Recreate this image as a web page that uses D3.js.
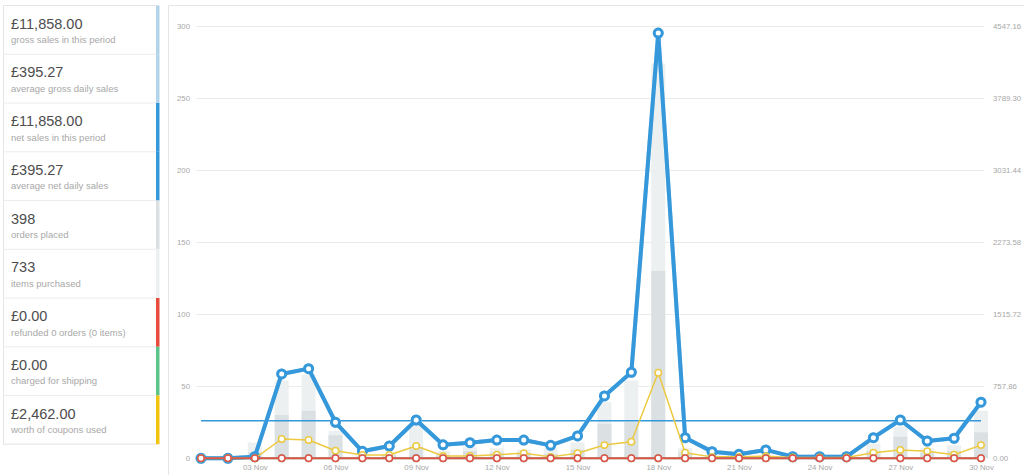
<!DOCTYPE html>
<html>
<head>
<meta charset="utf-8">
<script src="https://cdn.jsdelivr.net/npm/d3@7"></script>
<style>
  body { margin: 0; background: #fff; font-family: "Liberation Sans", Arial, sans-serif; }
  svg { display: block; }
</style>
</head>
<body>
<script>
// summary cards down the left
const cardValues = ['£11,858.00', '£395.27', '£11,858.00', '£395.27', '398', '733', '£0.00', '£0.00', '£2,462.00'];
const cardLabels = ['gross sales in this period', 'average gross daily sales', 'net sales in this period',
                    'average net daily sales', 'orders placed', 'items purchased',
                    'refunded 0 orders (0 items)', 'charged for shipping', 'worth of coupons used'];
const cardColors = ['#b1d4ea', '#b1d4ea', '#3498db', '#3498db', '#dbe1e3', '#ecf0f1', '#e74c3c', '#5cc488', '#f1c40f'];

// one entry per day, 01..30 Nov
const days = d3.range(1, 31);
const dayLabels = days.map(d => d3.format('02')(d) + ' Nov');
const itemCounts  = [0, 0, 11, 54, 58, 19, 2, 3, 23, 5, 8, 7, 6, 7, 11, 39, 54, 274, 7, 2, 1, 2, 1, 1, 1, 10, 22, 7, 9, 33];
const orderCounts = [0, 0, 4, 30, 33, 16, 1, 2, 8, 2, 5, 4, 4, 3, 6, 24, 25, 130, 4, 1, 1, 1, 0, 0, 0, 5, 15, 4, 5, 18];
const netSales    = [0, 0, 17, 887, 943, 379, 74, 129, 403, 142, 164, 192, 192, 136, 235, 656, 905, 4473, 217, 70, 42, 88, 17, 17, 17, 217, 403, 182, 211, 590];
const grossSales  = netSales.slice();
const couponAmounts   = [0, 0, 0, 203, 192, 80, 35, 35, 129, 24, 24, 38, 53, 15, 53, 139, 174, 900, 59, 15, 15, 21, 8, 8, 8, 59, 88, 74, 38, 139];
const shippingAmounts = [0, 0, 0, 0, 0, 0, 0, 0, 0, 0, 0, 0, 0, 0, 0, 0, 0, 0, 0, 0, 0, 0, 0, 0, 0, 0, 0, 0, 0, 0];
const refundAmounts   = [0, 0, 0, 0, 0, 0, 0, 0, 0, 0, 0, 0, 0, 0, 0, 0, 0, 0, 0, 0, 0, 0, 0, 0, 0, 0, 0, 0, 0, 0];
const averageNet = 395.27;

const leftTicks = [0, 50, 100, 150, 200, 250, 300];
const rightTicks = [0, 757.86, 1515.72, 2273.58, 3031.44, 3789.30, 4547.16];
const xTickDays = [3, 6, 9, 12, 15, 18, 21, 24, 27, 30];

const width = 1024, height = 475;
const svg = d3.select('body').append('svg').attr('width', width).attr('height', height);

// ---- left panel
const cardTop = 5, cardH = 48.75, cardX = 3, cardW = 153;
const cards = svg.append('g');
cards.append('rect')
    .attr('x', cardX + 0.5).attr('y', cardTop + 0.5)
    .attr('width', cardW).attr('height', cardH * cardValues.length)
    .attr('fill', '#fff').attr('stroke', '#e5e5e5');

const card = cards.selectAll('g.card').data(cardValues).join('g')
    .attr('class', 'card')
    .attr('transform', (d, i) => `translate(0,${cardTop + i * cardH})`);

card.append('line')
    .attr('x1', cardX).attr('x2', cardX + cardW)
    .attr('y1', cardH + 0.5).attr('y2', cardH + 0.5)
    .attr('stroke', '#ececec');
card.append('rect')
    .attr('x', 156).attr('y', 0.5)
    .attr('width', 3.5).attr('height', cardH)
    .attr('fill', (d, i) => cardColors[i]);
card.append('text')
    .attr('x', 11).attr('y', 23.5)
    .attr('font-size', 14.5).attr('fill', '#4d4d4d')
    .text(d => d);
card.append('text')
    .attr('x', 11).attr('y', 38)
    .attr('font-size', 9.5).attr('fill', '#a8a8a8')
    .text((d, i) => cardLabels[i]);

// ---- chart panel
svg.append('path')
    .attr('d', `M168.5,${height}V5.5H${width}`)
    .attr('fill', 'none').attr('stroke', '#e5e5e5');

const x = d3.scaleLinear().domain([1, 30]).range([201, 981]);
const y = d3.scaleLinear().domain([0, 300]).range([458.3, 26]);
const yMoney = d3.scaleLinear().domain([0, 4547.16]).range([458.3, 26]);

// grid
svg.append('g').selectAll('line').data(leftTicks.slice(1)).join('line')
    .attr('x1', 196).attr('x2', 984)
    .attr('y1', d => Math.round(y(d)) + 0.5).attr('y2', d => Math.round(y(d)) + 0.5)
    .attr('stroke', '#ebebeb');

const leftAxis = svg.append('g')
    .attr('transform', 'translate(190,0)')
    .call(d3.axisLeft(y).tickValues(leftTicks).tickSize(0).tickPadding(0));
const rightAxis = svg.append('g')
    .attr('transform', 'translate(993,0)')
    .call(d3.axisRight(yMoney).tickValues(rightTicks).tickFormat(d3.format('.2f')).tickSize(0).tickPadding(0));
const bottomAxis = svg.append('g')
    .attr('transform', 'translate(0,464)')
    .call(d3.axisBottom(x).tickValues(xTickDays).tickFormat(d => dayLabels[d - 1]).tickSize(0).tickPadding(0));
[leftAxis, rightAxis, bottomAxis].forEach(a => {
  a.select('.domain').remove();
  a.selectAll('text').attr('fill', '#a8a8a8').attr('font-size', 7.8)
      .attr('font-family', '"Liberation Sans", Arial, sans-serif');
});

// bars: items behind, orders in front
const barW = 14;
svg.append('g').selectAll('rect').data(itemCounts).join('rect')
    .attr('x', (d, i) => x(days[i]) - barW / 2).attr('width', barW)
    .attr('y', d => y(d)).attr('height', d => y(0) - y(d))
    .attr('fill', '#ecf0f1');
svg.append('g').selectAll('rect').data(orderCounts).join('rect')
    .attr('x', (d, i) => x(days[i]) - barW / 2).attr('width', barW)
    .attr('y', d => y(d)).attr('height', d => y(0) - y(d))
    .attr('fill', '#dbe1e3');

// average net sales
svg.append('line')
    .attr('x1', x(1)).attr('x2', x(30))
    .attr('y1', yMoney(averageNet)).attr('y2', yMoney(averageNet))
    .attr('stroke', '#3498db').attr('stroke-width', 1.5);

function drawSeries(values, color, lineW, r, ringW) {
  const pts = values.map((v, i) => [x(days[i]), yMoney(v)]);
  const g = svg.append('g');
  g.append('path')
      .attr('d', d3.line()(pts))
      .attr('fill', 'none').attr('stroke', color)
      .attr('stroke-width', lineW).attr('stroke-linejoin', 'round');
  g.selectAll('circle').data(pts).join('circle')
      .attr('cx', d => d[0]).attr('cy', d => d[1]).attr('r', r)
      .attr('fill', '#fff').attr('stroke', color).attr('stroke-width', ringW);
}

drawSeries(grossSales, '#b1d4ea', 4, 4, 3);
drawSeries(netSales, '#3498db', 4, 4, 3);
drawSeries(couponAmounts, '#ecc940', 1.5, 3.2, 1.5);
drawSeries(shippingAmounts, '#5cc488', 2, 3.2, 1.5);
drawSeries(refundAmounts, '#e0534a', 2, 3.2, 1.5);
</script>
</body>
</html>
